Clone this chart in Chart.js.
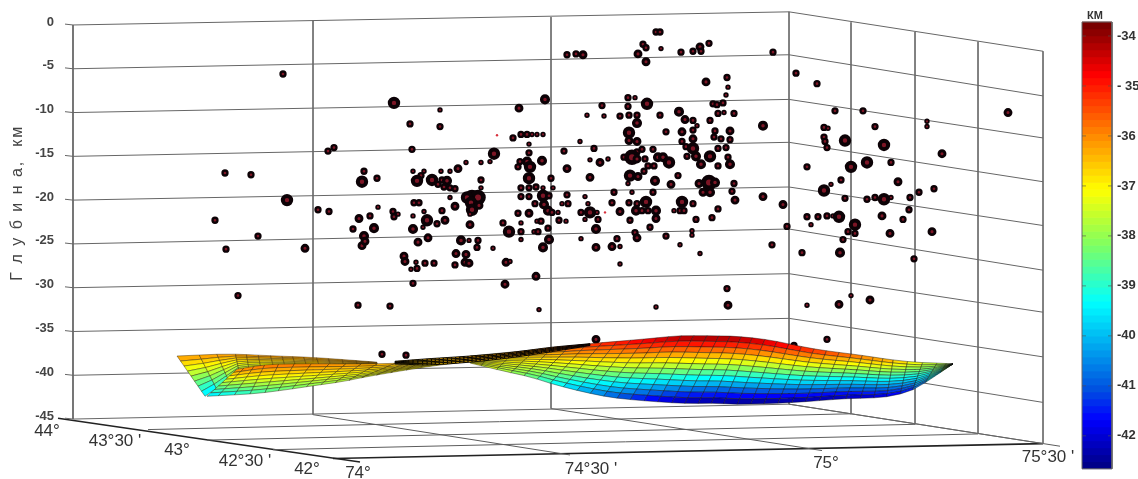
<!DOCTYPE html>
<html lang="ru">
<head>
<meta charset="UTF-8">
<title>Глубина, км</title>
<script src="https://cdn.jsdelivr.net/npm/chart.js"></script>
<style>
    body { margin: 0; background: #fff; }
    canvas { display: block; filter: blur(0.55px); }
</style>
</head>
<body>
<canvas id="myChart" width="1138" height="479"></canvas>
<script>
// horizontal position on the projected picture, depth in km, magnitude class
const quakeX = [
    283,225,251,287,215,258,394,328,334,364,
    362,377,318,329,378,393,394,398,370,359,
    374,353,364,226,305,362,365,238,358,390,
    382,656,660,643,646,638,646,661,681,693,
    700,701,709,567,576,583,773,796,706,727,
    728,726,628,635,647,628,602,713,717,723,
    519,545,440,587,604,620,629,637,660,679,
    718,724,734,637,685,693,697,710,410,440,
    666,682,693,715,730,763,629,497,513,521,
    527,532,537,543,529,580,629,637,682,693,
    714,721,730,412,594,564,494,529,642,637,
    653,686,693,718,726,590,608,624,632,637,
    645,658,663,669,687,696,710,728,466,481,
    490,542,520,527,530,518,600,701,718,730,
    458,567,648,654,644,413,424,421,441,450,
    417,432,442,447,438,444,450,455,529,551,
    590,630,638,678,655,628,671,709,699,715,
    734,481,481,521,529,536,543,553,472,478,
    467,471,472,479,470,450,414,419,455,543,
    521,529,549,567,585,614,632,653,703,710,
    732,763,783,735,535,544,562,568,588,612,
    629,637,646,682,693,413,424,442,548,558,
    552,518,529,581,590,597,605,620,636,642,
    648,656,674,680,684,718,427,445,437,470,
    503,521,537,541,559,566,585,598,630,656,
    696,712,413,423,509,521,534,538,548,596,
    650,692,787,418,428,461,469,478,521,549,
    581,617,635,637,666,692,477,493,543,596,
    612,620,680,772,456,466,404,405,700,416,
    425,434,411,417,465,469,455,506,510,413,
    505,536,620,539,656,727,728,596,406,794,
    817,835,863,824,828,875,927,927,1008,824,
    825,827,845,884,942,807,851,867,891,841,
    831,824,898,919,934,845,867,875,884,891,
    910,909,882,903,807,818,827,833,839,811,
    855,848,855,890,932,843,802,840,914,807,
    839,851,870,827
];
const quakeDepth = [
    -5.6,-16.9,-17.1,-20.0,-22.3,-24.1,-8.9,-14.4,-14.0,-16.7,
    -17.9,-17.5,-21.1,-21.3,-20.8,-21.3,-21.9,-21.6,-21.8,-22.1,
    -23.2,-23.3,-24.1,-25.6,-25.5,-25.2,-24.7,-30.9,-32.0,-32.1,
    -37.6,-0.8,-0.8,-2.2,-2.6,-3.3,-4.2,-2.7,-3.1,-3.0,
    -2.5,-3.0,-2.1,-3.4,-3.3,-3.4,-3.1,-5.5,-6.5,-6.0,
    -7.1,-8.0,-8.3,-8.3,-9.0,-9.3,-9.2,-9.0,-9.1,-8.9,
    -9.5,-8.5,-9.7,-10.3,-10.4,-10.4,-10.3,-10.3,-10.3,-9.9,
    -10.1,-10.0,-10.1,-11.2,-10.8,-10.9,-11.5,-10.9,-11.3,-11.6,
    -12.2,-12.2,-12.0,-12.1,-12.1,-11.5,-12.3,-12.6,-12.9,-12.5,
    -12.5,-12.5,-12.5,-12.5,-13.6,-13.3,-13.2,-13.3,-13.3,-13.0,
    -12.8,-13.0,-13.1,-14.2,-14.1,-14.4,-14.7,-14.6,-14.2,-14.5,
    -14.2,-13.9,-14.1,-14.1,-14.0,-15.4,-15.3,-15.1,-15.1,-15.3,
    -15.3,-15.1,-15.1,-15.7,-15.0,-15.0,-15.0,-15.1,-15.7,-15.7,
    -15.6,-15.5,-15.6,-15.6,-16.2,-16.2,-15.7,-15.9,-16.1,-15.9,
    -16.4,-16.4,-16.1,-16.1,-16.7,-16.7,-16.7,-17.2,-16.7,-16.7,
    -17.8,-17.7,-17.7,-17.8,-18.2,-18.5,-18.6,-18.7,-17.5,-17.5,
    -17.4,-17.2,-17.3,-17.2,-17.8,-18.1,-18.2,-18.0,-18.1,-18.0,
    -18.1,-17.7,-18.6,-18.6,-18.6,-18.5,-18.6,-18.6,-19.7,-19.7,
    -19.7,-20.3,-21.1,-20.6,-21.6,-19.7,-20.3,-20.3,-20.7,-19.5,
    -19.6,-19.6,-19.5,-19.4,-19.6,-19.1,-19.1,-19.1,-19.1,-19.1,
    -19.0,-19.6,-20.5,-20.0,-20.4,-20.5,-20.4,-20.4,-20.4,-20.3,
    -20.3,-20.4,-20.2,-20.2,-20.4,-21.8,-21.3,-21.2,-21.2,-21.4,
    -21.4,-21.5,-21.5,-21.4,-21.4,-21.4,-21.4,-21.3,-21.2,-21.2,
    -21.2,-21.2,-21.2,-21.2,-21.2,-21.0,-22.3,-22.3,-22.7,-22.8,
    -22.6,-22.6,-22.4,-22.4,-22.3,-22.4,-22.2,-22.2,-22.3,-22.1,
    -22.2,-22.0,-23.3,-23.1,-23.6,-23.6,-23.6,-23.6,-23.2,-23.3,
    -23.1,-23.5,-23.0,-24.8,-24.3,-24.6,-24.6,-24.6,-24.5,-24.5,
    -24.4,-24.4,-23.7,-24.3,-24.1,-24.0,-25.4,-25.5,-25.4,-25.4,
    -25.3,-25.3,-25.1,-25.1,-26.1,-26.2,-26.4,-27.0,-26.1,-27.1,
    -27.2,-27.2,-27.9,-27.8,-27.1,-27.2,-27.4,-27.1,-27.0,-29.5,
    -29.6,-28.7,-27.3,-32.5,-32.2,-30.1,-32.0,-35.9,-37.7,-36.6,
    -6.7,-9.8,-9.8,-11.7,-11.8,-11.6,-11.0,-11.6,-10.0,-12.8,
    -13.3,-14.0,-13.2,-13.7,-14.7,-16.2,-16.2,-15.7,-15.7,-17.7,
    -18.2,-18.9,-17.9,-19.1,-18.7,-19.8,-19.9,-19.7,-19.9,-19.7,
    -19.7,-21.1,-21.8,-22.2,-21.9,-21.9,-21.8,-21.8,-21.9,-22.8,
    -22.8,-23.6,-23.8,-23.8,-23.6,-24.5,-26.0,-26.0,-26.7,-32.0,
    -31.9,-30.9,-31.4,-35.9
];
const quakeMag = [
    2,2,2,5,2,2,5,2,2,2,
    5,2,2,2,1,2,2,1,2,3,
    4,2,4,2,3,3,3,2,2,2,
    2,2,2,2,2,3,3,1,2,2,
    3,2,2,2,2,3,2,2,3,2,
    1,1,2,1,5,2,2,2,2,2,
    3,4,1,1,1,2,2,2,2,4,
    2,1,2,4,3,2,1,2,2,2,
    2,3,2,2,3,4,5,0,2,2,
    2,1,1,1,1,1,3,3,2,3,
    2,2,2,2,2,2,5,2,2,2,
    2,2,5,2,2,1,1,2,6,3,
    2,4,4,5,2,4,5,2,1,1,
    1,4,2,4,5,2,3,4,2,4,
    3,3,2,2,2,1,1,2,1,1,
    5,5,2,4,2,2,2,2,5,2,
    3,5,3,2,4,1,3,6,3,4,
    2,2,1,2,2,2,1,1,6,6,
    5,5,5,3,1,1,2,2,3,5,
    2,2,2,2,1,2,1,2,3,4,
    2,3,3,3,2,4,1,2,1,2,
    2,2,5,5,2,1,1,2,4,1,
    2,2,3,2,5,1,0,3,4,2,
    2,4,1,2,2,2,5,3,2,3,
    2,1,1,2,2,1,1,2,2,3,
    2,2,4,1,5,2,1,2,2,4,
    2,1,2,3,3,4,1,2,1,4,
    1,2,2,3,2,1,2,1,4,3,
    3,1,1,2,3,3,3,3,1,1,
    2,2,1,2,3,3,2,3,1,2,
    3,3,1,1,1,2,3,3,2,2,
    2,2,2,2,1,2,1,1,3,2,
    2,2,5,5,3,2,5,5,2,2,
    1,5,3,2,2,2,2,2,5,1,
    2,2,3,2,2,2,2,1,5,1,
    5,2,2,3,3,2,2,4,2,1,
    3,1,3,2
];

// axes
const depthTicks = [0,-5,-10,-15,-20,-25,-30,-35,-40,-45];
const barTicks = [-34,-35,-36,-37,-38,-39,-40,-41,-42];
const barTickLabels = ['-34','- 35','-36','-37','-38','-39','-40','-41','-42'];
const latLabels = ['44°','43°30 \'','43°','42°30 \'','42°'];
const lonLabels = ['74°','74°30 \'','75°','75°30 \''];
const latLabelX = [47,115,177,245,307];
const latLabelY = [-46.4,-47.5,-48.6,-49.8,-50.7];
const lonLabelX = [358,591,826,1048];
const lonLabelY = [-51.2,-50.7,-50.1,-49.4];

// walls of the box: each depth row is bent at the far corner
const rowX = [65,73,789,1043];
const rowStub = [0.1,-4.9,-9.9,-14.9,-19.9,-24.9,-29.9,-34.9,-39.9,-44.9];
const rowBend = [1.5,-3.4,-8.5,-13.4,-18.5,-23.3,-28.4,-33.5,-38.4,-43.3];
const rowEnd = [-3.0,-8.1,-12.9,-17.9,-22.9,-28.0,-32.8,-37.9,-43.1,-47.8];
const vertX = [73,313,551,789,851,915,978,1043];
const vertTop = [0,0.5,0.9,1.5,0.3,-0.8,-1.9,-3.0];
const vertBottom = [-45,-44.5,-43.8,-43.3,-44.4,-45.6,-46.7,-47.8];

// floor of the box
const floorX0 = [148,207,273,313,551,789];
const floorY0 = [-46.2,-47.4,-48.5,-44.5,-43.8,-43.3];
const floorX1 = [851,915,978,570,822,1060];
const floorY1 = [-44.4,-45.6,-46.7,-49.1,-48.6,-48.1];
const edgeX0 = [58,333];
const edgeY0 = [-44.9,-49.5];
const edgeX1 = [360,1043];
const edgeY1 = [-49.9,-47.8];

// colour bar stops, km
const barStopKm = [-33.72,-34.78,-36.02,-37.07,-38.17,-39.33,-41.07,-41.67,-42.66];
const barStopR = [112,255,255,255,128,0,0,0,0];
const barStopG = [0,0,140,255,255,255,80,0,0];
const barStopB = [0,0,0,0,96,255,224,255,128];
const barCells = 64;

// Moho surface: far-left wing
const wingBackTopX = [177,197,217,237,277,317,377];
const wingBackTopY = [-37.8,-37.7,-37.6,-37.6,-37.8,-38.0,-38.5];
const wingBackBotX = [205,215,228,240,280,320,377];
const wingBackBotY = [-42.4,-41.6,-40.4,-39.3,-39.0,-39.0,-38.9];
const wingBackTopZ = [-36.1,-36.1,-36.1,-36.1,-36.1,-36.2,-36.3];
const wingBackBotZ = [-39.8,-39.3,-38.6,-37.8,-37.4,-37.0,-36.6];

// near-left wing
const wingFrontTopX = [237,267,300,337,370,403,430,457];
const wingFrontTopY = [-39.3,-38.8,-38.7,-38.7,-38.7,-38.6,-38.4,-38.2];
const wingFrontBotX = [207,253,283,313,343,370,423,463];
const wingFrontBotY = [-42.4,-42.1,-41.7,-41.2,-40.7,-40.1,-39.1,-38.5];
const wingFrontTopZ = [-35.9,-35.7,-35.8,-36.0,-36.2,-36.4,-36.6,-36.8];
const wingFrontBotZ = [-39.7,-38.9,-38.5,-38.1,-37.8,-37.5,-37.1,-36.9];

// main lobe
const lobeTopX = [470,525,560,590,620,650,680,717,740,770,815,860,890,915,935,953];
const lobeTopY = [-37.8,-37.2,-36.8,-36.4,-36.1,-35.8,-35.5,-35.5,-35.6,-36.0,-37.0,-37.7,-38.2,-38.5,-38.6,-38.7];
const lobeBotX = [470,503,530,553,580,610,643,683,710,743,793,843,883,907,923,953];
const lobeBotY = [-38.6,-39.5,-40.2,-41.0,-41.8,-42.5,-42.9,-43.2,-43.2,-43.3,-43.1,-42.7,-42.5,-41.9,-41.0,-38.7];
const lobeTopZ = [-36.8,-36.2,-35.7,-35.1,-34.8,-34.4,-34.0,-33.9,-34.0,-34.3,-35.0,-35.7,-36.2,-37.0,-37.5,-37.8];
const lobeBotZ = [-37.0,-37.8,-38.5,-39.3,-40.2,-41.0,-41.8,-42.5,-42.6,-42.7,-42.6,-42.4,-42.1,-41.6,-40.5,-37.8];

// squeezed neck between the wing and the lobe
const neckTopX = [395,430,470,510,552,590];
const neckTopY = [-38.4,-38.1,-37.8,-37.4,-36.8,-36.4];
const neckBotX = [395,430,470,510,552,590];
const neckBotY = [-38.7,-38.8,-38.5,-38.0,-37.3,-36.6];
const neckTopZ = [-36.4,-36.4,-36.3,-36.2,-35.8,-35.2];
const neckBotZ = [-36.6,-36.6,-36.5,-36.4,-36.0,-35.4];

const sheets = [
    { topX: wingBackTopX, topY: wingBackTopY, botX: wingBackBotX, botY: wingBackBotY, topZ: wingBackTopZ, botZ: wingBackBotZ, cols: 15, rows: 8, line: 'rgba(40,30,10,0.6)', width: 0.7 },
    { topX: wingFrontTopX, topY: wingFrontTopY, botX: wingFrontBotX, botY: wingFrontBotY, topZ: wingFrontTopZ, botZ: wingFrontBotZ, cols: 18, rows: 8, line: 'rgba(40,30,10,0.6)', width: 0.7 },
    { topX: lobeTopX, topY: lobeTopY, botX: lobeBotX, botY: lobeBotY, topZ: lobeTopZ, botZ: lobeBotZ, cols: 36, rows: 12, line: 'rgba(15,15,15,0.6)', width: 0.7 },
    { topX: neckTopX, topY: neckTopY, botX: neckBotX, botY: neckBotY, topZ: neckTopZ, botZ: neckBotZ, cols: 48, rows: 4, line: 'rgba(0,0,0,0.95)', width: 1 }
];

// size of a quake mark for each magnitude class
const magRadius = [1.2,1.9,2.5,3,3.4,4.2,5.4];
const magBorder = [0,1.6,2.3,2.9,3.3,4,4.8];

function barColor(km) {
    let i = 0;
    while (i < barStopKm.length - 2 && km < barStopKm[i + 1]) i++;
    let t = (barStopKm[i] - km) / (barStopKm[i] - barStopKm[i + 1]);
    t = Math.max(0, Math.min(1, t));
    const r = barStopR[i] + (barStopR[i + 1] - barStopR[i]) * t;
    const g = barStopG[i] + (barStopG[i + 1] - barStopG[i]) * t;
    const b = barStopB[i] + (barStopB[i + 1] - barStopB[i]) * t;
    return `rgb(${Math.round(r)},${Math.round(g)},${Math.round(b)})`;
}

// value of an array at column position u (0..1), measured along the lower edge,
// rounded off between the columns
function atColumn(arr, sheet, u) {
    const xs = sheet.botX;
    const last = xs.length - 1;
    const target = xs[0] + (xs[last] - xs[0]) * u;
    let i = 0;
    while (i < last - 1 && target > xs[i + 1]) i++;
    const t = (target - xs[i]) / (xs[i + 1] - xs[i]);
    const p0 = arr[Math.max(i - 1, 0)], p1 = arr[i], p2 = arr[i + 1], p3 = arr[Math.min(i + 2, last)];
    return 0.5 * (2 * p1 + (p2 - p0) * t + (2 * p0 - 5 * p1 + 4 * p2 - p3) * t * t + (3 * p1 - p0 - 3 * p2 + p3) * t * t * t);
}

function sheetPoint(sheet, u, v, xScale, yScale) {
    const x = atColumn(sheet.topX, sheet, u) + (atColumn(sheet.botX, sheet, u) - atColumn(sheet.topX, sheet, u)) * v;
    const y = atColumn(sheet.topY, sheet, u) + (atColumn(sheet.botY, sheet, u) - atColumn(sheet.topY, sheet, u)) * v;
    return [xScale.getPixelForValue(x), yScale.getPixelForValue(y)];
}

const surfacePlugin = {
    id: 'surface',
    afterDatasetsDraw(chart) {
        const ctx = chart.ctx;
        const xScale = chart.scales.x;
        const yScale = chart.scales.y;
        ctx.save();
        sheets.forEach(function (sheet) {
            ctx.strokeStyle = sheet.line;
            ctx.lineWidth = sheet.width;
            for (let c = 0; c < sheet.cols; c++) {
                for (let r = 0; r < sheet.rows; r++) {
                    const u0 = c / sheet.cols, u1 = (c + 1) / sheet.cols;
                    const v0 = r / sheet.rows, v1 = (r + 1) / sheet.rows;
                    const a = sheetPoint(sheet, u0, v0, xScale, yScale);
                    const b = sheetPoint(sheet, u1, v0, xScale, yScale);
                    const d = sheetPoint(sheet, u1, v1, xScale, yScale);
                    const e = sheetPoint(sheet, u0, v1, xScale, yScale);
                    const um = (u0 + u1) / 2, vm = (v0 + v1) / 2;
                    const zTop = atColumn(sheet.topZ, sheet, um);
                    const zBot = atColumn(sheet.botZ, sheet, um);
                    ctx.beginPath();
                    ctx.moveTo(a[0], a[1]);
                    ctx.lineTo(b[0], b[1]);
                    ctx.lineTo(d[0], d[1]);
                    ctx.lineTo(e[0], e[1]);
                    ctx.closePath();
                    ctx.fillStyle = barColor(zTop + (zBot - zTop) * vm);
                    ctx.fill();
                    ctx.stroke();
                }
            }
        });
        ctx.restore();
    }
};

const labelsPlugin = {
    id: 'freeLabels',
    afterDraw(chart) {
        const ctx = chart.ctx;
        const xScale = chart.scales.x;
        const yScale = chart.scales.y;
        const barScale = chart.scales.y1;
        ctx.save();
        ctx.textAlign = 'center';
        ctx.textBaseline = 'middle';
        ctx.fillStyle = '#333';
        ctx.font = '17px "Liberation Sans"';
        latLabels.forEach(function (t, i) {
            ctx.fillText(t, xScale.getPixelForValue(latLabelX[i]), yScale.getPixelForValue(latLabelY[i]));
        });
        lonLabels.forEach(function (t, i) {
            ctx.fillText(t, xScale.getPixelForValue(lonLabelX[i]), yScale.getPixelForValue(lonLabelY[i]));
        });

        // units over the colour bar
        ctx.font = 'bold 11px "Liberation Sans"';
        ctx.fillText('КМ', xScale.getPixelForValue(1095), barScale.getPixelForValue(-33.6));

        // depth axis title
        ctx.translate(18, yScale.getPixelForValue(-20.3));
        ctx.rotate(-Math.PI / 2);
        ctx.font = '16px "Liberation Sans"';
        ctx.letterSpacing = '2px';
        ctx.fillStyle = '#444';
        ctx.fillText('Г л у б и н а,  км', 0, 0);
        ctx.restore();

        // little ticks on both sides of the colour bar
        ctx.save();
        ctx.strokeStyle = 'rgba(80,80,80,0.6)';
        ctx.lineWidth = 1;
        barTicks.forEach(function (v) {
            const y = barScale.getPixelForValue(v);
            ctx.beginPath();
            ctx.moveTo(xScale.getPixelForValue(1082), y);
            ctx.lineTo(xScale.getPixelForValue(1086), y);
            ctx.moveTo(xScale.getPixelForValue(1108), y);
            ctx.lineTo(xScale.getPixelForValue(1112), y);
            ctx.stroke();
        });
        ctx.restore();
    }
};

function frameLine(points, color, width) {
    return {
        data: points,
        showLine: true,
        pointRadius: 0,
        borderColor: color,
        borderWidth: width,
        clip: false
    };
}

const datasets = [];

// quakes first so that they lie over the box lines
datasets.push({
    data: quakeX.map(function (x, i) { return { x: x, y: quakeDepth[i] }; }),
    pointRadius: quakeMag.map(function (m) { return magRadius[m]; }),
    pointBorderWidth: quakeMag.map(function (m) { return magBorder[m]; }),
    pointBackgroundColor: quakeMag.map(function (m) { return m === 0 ? '#d8303c' : '#7d1525'; }),
    pointBorderColor: '#0c0206',
    clip: false
});

// colour bar frame and cells
const barFrameX = [1082,1112,1112,1082,1082];
const barFrameY = [-33.72,-33.72,-42.66,-42.66,-33.72];
datasets.push(Object.assign(frameLine(barFrameX.map(function (x, i) { return { x: x, y: barFrameY[i] }; }), '#666', 1), { yAxisID: 'y1' }));
for (let k = 0; k < barCells; k++) {
    const km = -33.72 - (42.66 - 33.72) * (k + 0.5) / barCells;
    datasets.push(Object.assign(frameLine([{ x: 1082, y: km }, { x: 1112, y: km }], barColor(km), 7.6), { yAxisID: 'y1' }));
}

// box
depthTicks.forEach(function (d, i) {
    datasets.push(frameLine([
        { x: rowX[0], y: rowStub[i] },
        { x: rowX[1], y: d },
        { x: rowX[2], y: rowBend[i] },
        { x: rowX[3], y: rowEnd[i] }
    ], '#666', 1));
});
vertX.forEach(function (x, i) {
    datasets.push(frameLine([{ x: x, y: vertTop[i] }, { x: x, y: vertBottom[i] }], i === 0 ? '#555' : '#707070', i === 0 ? 1.6 : 1));
});
floorX0.forEach(function (x, i) {
    datasets.push(frameLine([{ x: x, y: floorY0[i] }, { x: floorX1[i], y: floorY1[i] }], '#5c5c5c', 1));
});
edgeX0.forEach(function (x, i) {
    datasets.push(frameLine([{ x: x, y: edgeY0[i] }, { x: edgeX1[i], y: edgeY1[i] }], '#222', 1.6));
});

function fixedAxis(width) {
    return function (scale) {
        scale.width = width;
        scale.paddingTop = 0;
        scale.paddingBottom = 0;
    };
}

new Chart(document.getElementById('myChart'), {
    type: 'scatter',
    data: { datasets: datasets },
    plugins: [surfacePlugin, labelsPlugin],
    options: {
        responsive: false,
        animation: false,
        layout: { padding: { top: 22, bottom: 9, left: 0, right: 0 } },
        plugins: { legend: { display: false }, tooltip: { enabled: false } },
        scales: {
            x: { type: 'linear', display: false, min: 73, max: 1112 },
            y: {
                type: 'linear',
                min: -50.68,
                max: 0.34,
                afterBuildTicks: function (scale) {
                    scale.ticks = depthTicks.map(function (v) { return { value: v }; });
                },
                afterFit: fixedAxis(73),
                grid: { display: false, drawTicks: false },
                border: { display: false },
                ticks: {
                    padding: 19,
                    labelOffset: -3,
                    color: '#444',
                    font: { family: 'Liberation Sans', size: 13, weight: 'bold' },
                    callback: function (v) { return String(v); }
                }
            },
            y1: {
                type: 'linear',
                position: 'right',
                min: -42.66,
                max: -33.72,
                afterBuildTicks: function (scale) {
                    scale.ticks = barTicks.map(function (v) { return { value: v }; });
                },
                afterFit: fixedAxis(26),
                grid: { display: false, drawTicks: false },
                border: { display: false },
                ticks: {
                    padding: 5,
                    color: '#333',
                    font: { family: 'Liberation Sans', size: 13, weight: 'bold' },
                    callback: function (v, i) { return barTickLabels[i]; }
                }
            }
        }
    }
});
</script>
</body>
</html>
